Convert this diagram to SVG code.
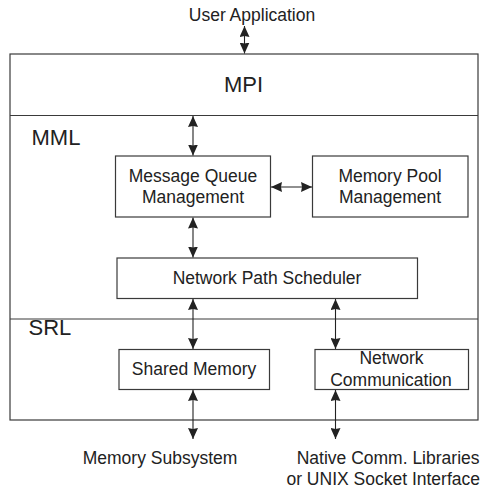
<svg xmlns="http://www.w3.org/2000/svg" width="488" height="491" viewBox="0 0 488 491">
  <style>
    .box { fill: #ffffff; stroke: #3a3a3a; stroke-width: 1.2; }
    .div { stroke: #3a3a3a; stroke-width: 1.2; fill: none; }
    .lbl { font-family: "Liberation Sans", Arial, sans-serif; font-size: 17.5px; fill: #222; text-anchor: middle; }
    .big { font-family: "Liberation Sans", Arial, sans-serif; font-size: 22px; fill: #222; }
    .conn { stroke: #222; stroke-width: 1.1; fill: none; marker-start: url(#head); marker-end: url(#head); }
  </style>
  <defs>
    <marker id="head" viewBox="0 0 11 10" refX="11" refY="5" markerWidth="11" markerHeight="10" markerUnits="userSpaceOnUse" orient="auto-start-reverse">
      <path d="M0,0 L11,5 L0,10 L1,5 Z" fill="#222"/>
    </marker>
  </defs>

  <!-- outer frame with layer dividers -->
  <g id="layers">
    <rect class="box" x="10" y="54" width="468" height="366"/>
    <line class="div" x1="10" y1="115.5" x2="478" y2="115.5"/>
    <line class="div" x1="10" y1="319" x2="478" y2="319"/>
  </g>

  <g id="mpi">
    <text class="big" x="243.5" y="92" text-anchor="middle">MPI</text>
  </g>
  <g id="mml">
    <text class="big" x="31.5" y="145">MML</text>
  </g>
  <g id="srl">
    <text class="big" x="28.5" y="335">SRL</text>
  </g>

  <g id="user-application">
    <text class="lbl" x="252" y="21">User Application</text>
  </g>

  <g id="message-queue-management">
    <rect class="box" x="115.5" y="156" width="155" height="61"/>
    <text class="lbl" x="193" y="181.5">Message Queue</text>
    <text class="lbl" x="193" y="203">Management</text>
  </g>

  <g id="memory-pool-management">
    <rect class="box" x="312.5" y="156" width="155.5" height="61"/>
    <text class="lbl" x="390" y="181.5">Memory Pool</text>
    <text class="lbl" x="390" y="203">Management</text>
  </g>

  <g id="network-path-scheduler">
    <rect class="box" x="117" y="258" width="300.5" height="40.5"/>
    <text class="lbl" x="267" y="284">Network Path Scheduler</text>
  </g>

  <g id="shared-memory">
    <rect class="box" x="119" y="349.5" width="150.5" height="40"/>
    <text class="lbl" x="194" y="375">Shared Memory</text>
  </g>

  <g id="network-communication">
    <rect class="box" x="315" y="349.5" width="153.5" height="40"/>
    <text class="lbl" x="391.5" y="363.5">Network</text>
    <text class="lbl" x="391" y="385.5">Communication</text>
  </g>

  <g id="memory-subsystem">
    <text class="lbl" x="160" y="463.5">Memory Subsystem</text>
  </g>

  <g id="native-comm">
    <text class="lbl" x="479.5" y="463.5" style="text-anchor:end">Native Comm. Libraries</text>
    <text class="lbl" x="480" y="485" style="text-anchor:end">or UNIX Socket Interface</text>
  </g>

  <g id="connectors">
    <line class="conn" x1="244.5" y1="26" x2="244.5" y2="53.5"/>
    <line class="conn" x1="193" y1="116" x2="193" y2="155.5"/>
    <line class="conn" x1="271" y1="187" x2="312" y2="187"/>
    <line class="conn" x1="193" y1="217.5" x2="193" y2="257.5"/>
    <line class="conn" x1="193" y1="299" x2="193" y2="349"/>
    <line class="conn" x1="335.5" y1="299" x2="335.5" y2="349"/>
    <line class="conn" x1="193" y1="390" x2="193" y2="439"/>
    <line class="conn" x1="335.5" y1="390" x2="335.5" y2="439"/>
  </g>
</svg>
